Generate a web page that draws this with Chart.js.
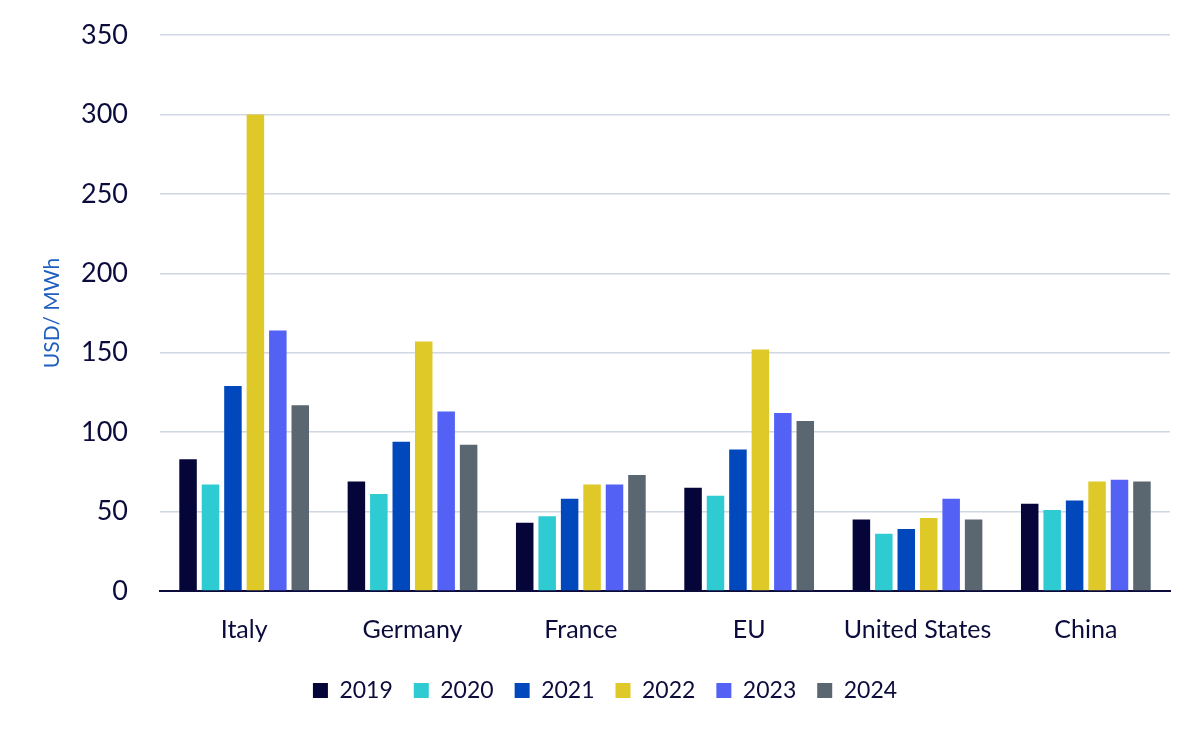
<!DOCTYPE html>
<html>
<head>
<meta charset="utf-8">
<script src="https://cdn.jsdelivr.net/npm/chart.js@4.4.1/dist/chart.umd.min.js"></script>
<style>
  html, body { margin: 0; padding: 0; background: #fff; }
  #wrap { width: 1200px; height: 735px; position: relative; }
</style>
</head>
<body>
<div id="wrap"><canvas id="priceChart"></canvas></div>
<script>
// Electricity prices by region, USD/MWh
const regions = ['Italy', 'Germany', 'France', 'EU', 'United States', 'China'];
const years = ['2019', '2020', '2021', '2022', '2023', '2024'];

const v2019 = [83, 69, 43, 65, 45, 55];
const v2020 = [67, 61, 47, 60, 36, 51];
const v2021 = [129, 94, 58, 89, 39, 57];
const v2022 = [300, 157, 67, 152, 46, 69];
const v2023 = [164, 113, 67, 112, 58, 70];
const v2024 = [117, 92, 73, 107, 45, 69];

const yTicks = [0, 50, 100, 150, 200, 250, 300, 350];

const seriesValues = [v2019, v2020, v2021, v2022, v2023, v2024];
const seriesColors = ['#05053a', '#2ecbd3', '#0048bb', '#dfc929', '#5361f5', '#5a6670'];

const navy = '#0c0c3c';
const fontFamily = 'Lato, "Open Sans", sans-serif';

const ctx = document.getElementById('priceChart');

new Chart(ctx, {
    type: 'bar',
    data: {
        labels: regions,
        datasets: years.map((y, i) => ({
            label: y,
            data: seriesValues[i],
            backgroundColor: seriesColors[i],
            borderWidth: 0,
            categoryPercentage: 0.8,
            barPercentage: 0.78
        }))
    },
    options: {
        responsive: true,
        maintainAspectRatio: false,
        animation: false,
        layout: {
            padding: { left: 40, right: 30, top: 35, bottom: 23 }
        },
        plugins: {
            tooltip: { enabled: false },
            legend: {
                position: 'bottom',
                labels: {
                    color: navy,
                    boxWidth: 15,
                    boxHeight: 15,
                    padding: 21,
                    font: { family: fontFamily, size: 23 }
                }
            }
        },
        scales: {
            x: {
                grid: { display: false, drawTicks: false },
                border: { color: navy, width: 2 },
                ticks: {
                    color: navy,
                    padding: 24,
                    font: { family: fontFamily, size: 25 }
                },
                afterFit: axis => { axis.height -= 11; }
            },
            y: {
                min: 0,
                max: 350,
                afterBuildTicks: axis => {
                    axis.ticks = yTicks.map(v => ({ value: v }));
                },
                afterFit: axis => {
                    axis.width = 120;
                    axis.paddingTop = 0;
                    axis.paddingBottom = 0;
                },
                grid: { color: '#cfd8e3', lineWidth: 1.5, drawTicks: false },
                border: { display: false },
                ticks: {
                    color: navy,
                    padding: 32,
                    font: { family: fontFamily, size: 27 }
                },
                title: {
                    display: true,
                    text: 'USD/ MWh',
                    color: '#1f5fc0',
                    padding: { top: 0, bottom: 0 },
                    font: { family: fontFamily, size: 21 }
                }
            }
        }
    }
});
</script>
</body>
</html>
